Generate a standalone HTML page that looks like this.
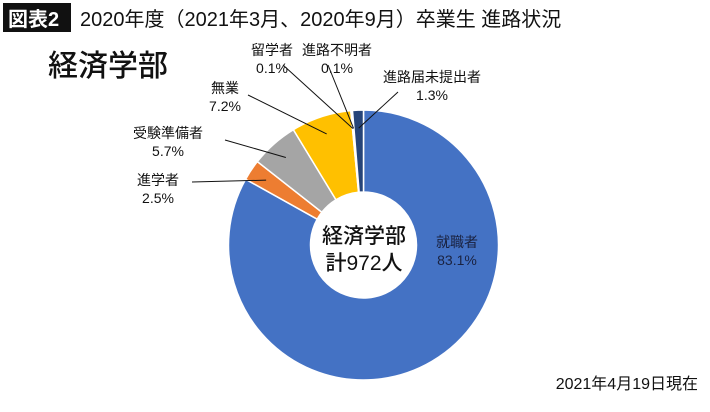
<!DOCTYPE html>
<html><head><meta charset="utf-8"><style>
body{margin:0;width:710px;height:407px;background:#fff;overflow:hidden;font-family:"Liberation Sans","Noto Sans CJK JP",sans-serif;}
svg text{font-family:"Liberation Sans","Noto Sans CJK JP",sans-serif;}
</style></head><body>
<svg id="chart" width="710" height="407">
<rect x="3" y="3" width="68" height="29" fill="#111"/>
<text x="8" y="26" font-size="20" font-weight="bold" fill="#fff">図表2</text>
<text x="80" y="26" font-size="20" fill="#111">2020年度（2021年3月、2020年9月）卒業生 進路状況</text>
<text x="48" y="76" font-size="30" font-weight="500" fill="#111">経済学部</text>
<text x="698" y="389" font-size="16" fill="#111" text-anchor="end">2021年4月19日現在</text>
<g id="slices"></g>
<g id="labels"></g>
<text x="364" y="243" font-size="21" font-weight="500" text-anchor="middle" fill="#111">経済学部</text>
<text x="364" y="270" font-size="21" font-weight="500" text-anchor="middle" fill="#111">計972人</text>
</svg>
<script>
const categories=["就職者","進学者","受験準備者","無業","留学者","進路不明者","進路届未提出者"];
const values=[83.1,2.5,5.7,7.2,0.1,0.1,1.3];
const colors=["#4472C4","#ED7D31","#A5A5A5","#FFC000","#5B9BD5","#70AD47","#264478"];
const cx=363.5,cy=245,R=135,r=53;
const NS="http://www.w3.org/2000/svg";
const total=values.reduce((a,b)=>a+b,0);
function pt(a,rad){return [cx+rad*Math.sin(a),cy-rad*Math.cos(a)];}
let acc=0;const mids=[];
const gs=document.getElementById('slices');
values.forEach((v,i)=>{
 const a0=acc/total*2*Math.PI;acc+=v;const a1=acc/total*2*Math.PI;
 mids.push((a0+a1)/2);
 const large=(a1-a0)>Math.PI?1:0;
 const p0=pt(a0,R),p1=pt(a1,R),q1=pt(a1,r),q0=pt(a0,r);
 const p=document.createElementNS(NS,'path');
 p.setAttribute('d',`M${p0[0]},${p0[1]}A${R},${R} 0 ${large} 1 ${p1[0]},${p1[1]}L${q1[0]},${q1[1]}A${r},${r} 0 ${large} 0 ${q0[0]},${q0[1]}Z`);
 p.setAttribute('fill',colors[i]);p.setAttribute('stroke','#fff');p.setAttribute('stroke-width','1.5');
 
 
 gs.appendChild(p);
});
const labelPos=[[457,247,null],[158,185,[192,182]],[168,138,[225,140]],[225,93,[248,95]],[272,55,[283,65]],[337,55,[328,65]],[432,82,[398,92]]];
const gl=document.getElementById('labels');
categories.forEach((c,i)=>{
 const [x,y,lp]=labelPos[i];
 if(lp){
  const m=pt(mids[i],R-18);
  const l=document.createElementNS(NS,'line');
  l.setAttribute('x1',lp[0]);l.setAttribute('y1',lp[1]);l.setAttribute('x2',m[0]);l.setAttribute('y2',m[1]);
  l.setAttribute('stroke','#111');l.setAttribute('stroke-width','1');
  
  
  gl.appendChild(l);
 }
 const col=i===0?'#1a2240':'#111';
 const t=document.createElementNS(NS,'text');
 t.setAttribute('x',x);t.setAttribute('y',y);t.setAttribute('font-size','14');t.setAttribute('text-anchor','middle');t.setAttribute('fill',col);
 t.textContent=c;
 
 
 gl.appendChild(t);
 const t2=document.createElementNS(NS,'text');
 t2.setAttribute('x',x);t2.setAttribute('y',y+18);t2.setAttribute('font-size','14');t2.setAttribute('text-anchor','middle');t2.setAttribute('fill',col);
 t2.textContent=values[i].toFixed(1)+'%';
 
 
 gl.appendChild(t2);
});
</script>
</body></html>
